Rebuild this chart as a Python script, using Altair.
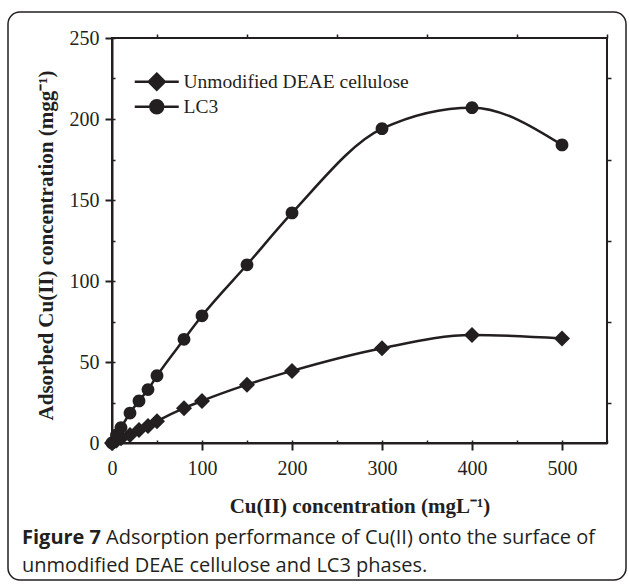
import altair as alt
import pandas as pd

# ---- data ----
conc = [0, 5, 10, 20, 30, 40, 50, 80, 100, 150, 200, 300, 400, 500]
unmodified = [0, 1.5, 3, 5, 8, 10.5, 13.5, 21.5, 26, 36, 44.5, 58.5, 66.7, 64.5]
lc3 = [0, 5, 9.5, 18.5, 26, 33, 41.5, 64, 78.5, 110, 142, 194, 207, 184]
series_names = ["Unmodified DEAE cellulose", "LC3"]

x_major = [0, 100, 200, 300, 400, 500]
x_minor = [50, 150, 250, 350, 450, 550]
x_all = [0, 50, 100, 150, 200, 250, 300, 350, 400, 450, 500, 550]
y_major = [0, 50, 100, 150, 200, 250]
y_minor = [25, 75, 125, 175, 225]
y_all = [0, 25, 50, 75, 100, 125, 150, 175, 200, 225, 250]

caption_bold = "Figure 7"
caption_rest1 = "Adsorption performance of Cu(II) onto the surface of"
caption_line2 = "unmodified DEAE cellulose and LC3 phases."

rows = []
for name, vals in zip(series_names, [unmodified, lc3]):
    for c, v in zip(conc, vals):
        rows.append({"series": name, "conc": c, "q": v})
df = pd.DataFrame(rows)

W, H = 495, 405
FONT = "Liberation Serif"
CAPFONT = "Open Sans"
INK = "#231f20"

xs = alt.Scale(domain=[0, 550], nice=False)
ys = alt.Scale(domain=[0, 250], nice=False)

diamond_path = "M0,-1L1,0L0,1L-1,0Z"
circle_path = "M0.8,0A0.8,0.8,0,1,1,-0.8,0A0.8,0.8,0,1,1,0.8,0Z"
diamond_leg = "M-2.75,0H2.75M0,-1L1,0L0,1L-1,0Z"
circle_leg = "M-2.75,0H2.75M0.8,0A0.8,0.8,0,1,1,-0.8,0A0.8,0.8,0,1,1,0.8,0Z"

base = alt.Chart(df)

lines = base.mark_line(interpolate="monotone", color=INK, strokeWidth=2.5).encode(
    x=alt.X("conc:Q", scale=xs, axis=alt.Axis(
        values=x_major, title="Cu(II) concentration (mgL⁻¹)", labelFlush=False,
        labelFont=FONT, labelFontSize=20, labelColor=INK, labelPadding=8,
        tickSize=7, tickWidth=2, tickColor=INK, domainColor=INK, domainWidth=2,
        grid=False, titleFont=FONT, titleFontSize=21, titleFontWeight="bold",
        titleColor=INK, titleX=247.5, titleY=63, titleBaseline="middle")),
    y=alt.Y("q:Q", scale=ys, axis=alt.Axis(
        values=y_major, title="Adsorbed Cu(II) concentration (mgg⁻¹)",
        labelFont=FONT, labelFontSize=20, labelColor=INK, labelPadding=6,
        tickSize=7, tickWidth=2, tickColor=INK, domainColor=INK, domainWidth=2,
        grid=False, titleFont=FONT, titleFontSize=21, titleFontWeight="bold",
        titleColor=INK, titleX=-66, titleY=207, titleAngle=-90,
        titleBaseline="middle")),
    detail="series:N",
)

points = base.mark_point(filled=True, color=INK, opacity=1, size=256).encode(
    x=alt.X("conc:Q", scale=xs, axis=alt.Axis(
        values=x_minor, labels=False, title=None, domain=False, grid=False,
        tickSize=4, tickWidth=1.5, tickColor=INK)),
    y=alt.Y("q:Q", scale=ys, axis=alt.Axis(
        values=y_minor, labels=False, title=None, domain=False, grid=False,
        tickSize=4, tickWidth=1.5, tickColor=INK)),
    shape=alt.Shape("series:N",
                    scale=alt.Scale(domain=series_names, range=[diamond_path, circle_path]),
                    legend=None),
)

legend_layer = base.mark_point(filled=True, color=INK, stroke=INK, strokeWidth=2.5,
                               size=256, opacity=0).encode(
    x=alt.X("conc:Q", scale=xs, axis=None),
    y=alt.Y("q:Q", scale=ys, axis=None),
    shape=alt.Shape("series:N",
                    scale=alt.Scale(domain=series_names, range=[diamond_leg, circle_leg]),
                    legend=alt.Legend(
                        title=None, orient="none", legendX=35, legendY=34, padding=0,
                        symbolSize=256, symbolOpacity=1, symbolStrokeWidth=2.5,
                        labelLimit=0, labelFont=FONT, labelFontSize=19.5, labelColor=INK,
                        labelOffset=17, rowPadding=0)),
)

mirror = base.mark_point(opacity=0).encode(
    x=alt.X("conc:Q", scale=xs, axis=alt.Axis(
        values=x_all, labels=False, title=None, domain=False, grid=False,
        tickSize=3, tickWidth=1.5, tickColor=INK, offset=-H)),
    y=alt.Y("q:Q", scale=ys, axis=alt.Axis(
        values=y_all, labels=False, title=None, domain=False, grid=False,
        tickSize=3, tickWidth=1.5, tickColor=INK, offset=-W)),
)

one = alt.Chart(pd.DataFrame({"k": [0]}))

frame = one.mark_rect(fillOpacity=0, stroke=INK, strokeWidth=1.5, cornerRadius=12).encode(
    x=alt.value(-104), x2=alt.value(514), y=alt.value(-26), y2=alt.value(542))

cap_a = one.mark_text(align="left", baseline="middle", font=CAPFONT, fontSize=20,
                      fontWeight="bold", color=INK, text=caption_bold).encode(
    x=alt.value(-90), y=alt.value(500))
cap_b = one.mark_text(align="left", baseline="middle", font=CAPFONT, fontSize=20,
                      fontWeight=500, color=INK, text=caption_rest1).encode(
    x=alt.value(-6), y=alt.value(500))
cap_c = one.mark_text(align="left", baseline="middle", font=CAPFONT, fontSize=20,
                      fontWeight=500, color=INK, text=caption_line2).encode(
    x=alt.value(-90), y=alt.value(528))

chart = alt.layer(frame, lines, points, legend_layer, mirror, cap_a, cap_b, cap_c).resolve_axis(
    x="independent", y="independent"
).resolve_scale(shape="independent").properties(
    width=W, height=H,
    autosize=alt.AutoSizeParams(type="none"),
    padding={"left": 112, "top": 38, "right": 22, "bottom": 145},
).configure_view(stroke=INK, strokeWidth=2)

chart.save("out.html", embed_options={"renderer": "svg", "actions": False})
